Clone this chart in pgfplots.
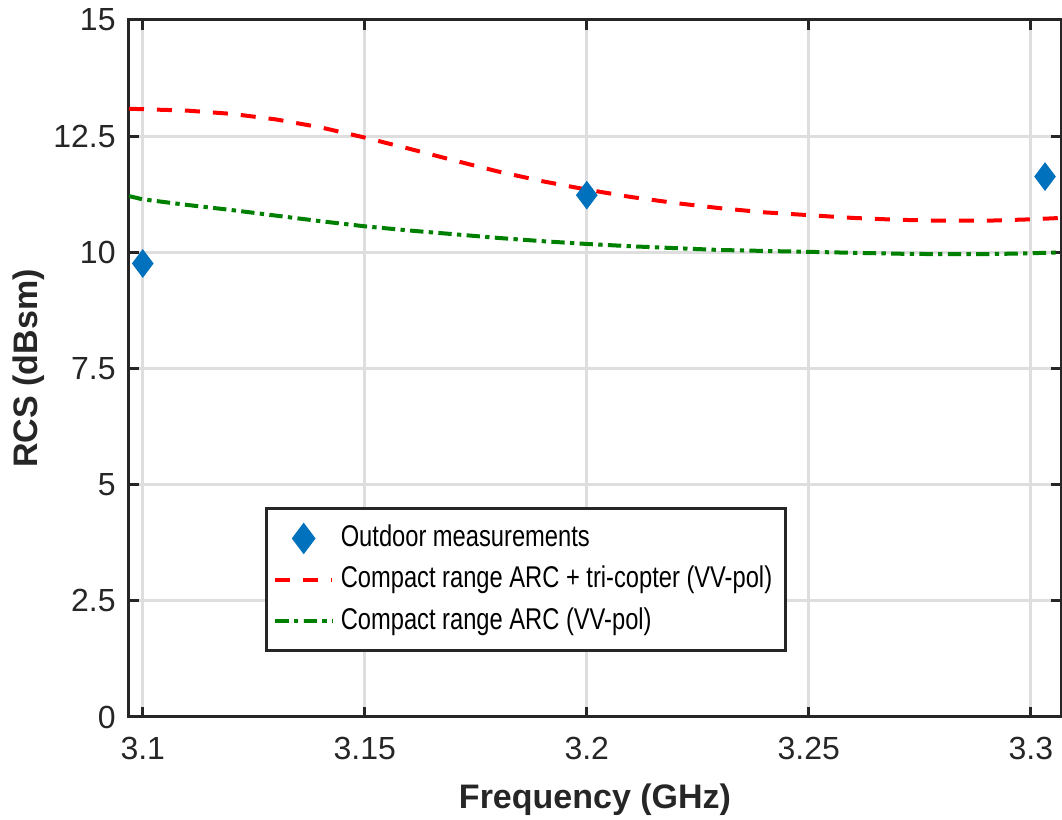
\documentclass[border=0pt]{standalone}
\usepackage{pgfplots}
\pgfplotsset{compat=1.18}
\usepackage{fontspec}
\setmainfont{Liberation Sans}
\definecolor{mblue}{rgb}{0,0.447,0.741}
\definecolor{axgray}{gray}{0.15}
\definecolor{grd}{gray}{0.87}
\newcommand{\lt}[1]{\scalebox{0.79}[1]{#1}}
\begin{document}
\begin{tikzpicture}
\begin{axis}[
  scale only axis,
  width=279.6pt, height=209.1pt,
  xmin=3.0969, xmax=3.3068,
  ymin=0, ymax=15,
  xtick={3.1,3.15,3.2,3.25,3.3},
  xticklabels={3.1,3.15,3.2,3.25,3.3},
  ytick={0,2.5,5,7.5,10,12.5,15},
  yticklabels={0,2.5,5,7.5,10,12.5,15},
  font=\fontsize{9.6}{11.5}\selectfont,
  /pgf/number format/assume math mode=true,
  tick align=inside,
  major tick length=3pt,
  tick style={axgray, line width=0.9pt},
  axis line style={axgray, line width=0.9pt},
  grid=major,
  major grid style={grd, line width=0.9pt},
  ticklabel style={text=axgray},
  xticklabel style={yshift=-2.5pt},
  yticklabel style={xshift=-0.5pt},
  xlabel={\bfseries Frequency (GHz)},
  ylabel={\bfseries RCS (dBsm)},
  xlabel style={text=axgray, font=\fontsize{10.2}{12}\selectfont, yshift=-0.3pt},
  ylabel style={text=axgray, font=\fontsize{10.2}{12}\selectfont, yshift=-4.3pt},
  legend style={at={(0.146,0.093)}, anchor=south west,
    draw=axgray, line width=0.9pt, fill=white,
    font=\fontsize{9}{10.8}\selectfont,
    row sep=0.3pt, inner xsep=2pt, inner ysep=3pt},
  legend cell align=left,
]
\addplot[only marks, mark=diamond*, mark size=4pt, mblue, mark options={fill=mblue, draw=mblue}]
  coordinates {(3.1,9.76) (3.2,11.23) (3.3032,11.63)};
\addlegendentry{\lt{Outdoor measurements}}
\addplot[red, line width=1.2pt, dash pattern=on 4.5pt off 3.9pt]
  coordinates {
  (3.0969,13.09) (3.100,13.08) (3.110,13.05) (3.120,12.98) (3.130,12.86)
  (3.140,12.69) (3.150,12.47) (3.160,12.23) (3.170,11.98) (3.180,11.74)
  (3.190,11.53) (3.200,11.35) (3.210,11.19) (3.220,11.06) (3.230,10.95)
  (3.240,10.86) (3.250,10.80) (3.260,10.74) (3.270,10.70) (3.280,10.68)
  (3.290,10.68) (3.300,10.71) (3.3068,10.74)};
\addlegendentry{\lt{Compact range ARC + tri-copter (VV-pol)}}
\addplot[green!50!black, line width=1.2pt, dash pattern=on 4pt off 1.6pt on 1.3pt off 1.6pt]
  coordinates {
  (3.0969,11.21) (3.100,11.14) (3.110,11.02) (3.120,10.91) (3.130,10.79)
  (3.140,10.67) (3.150,10.56) (3.160,10.47) (3.170,10.39) (3.180,10.31)
  (3.190,10.24) (3.200,10.18) (3.210,10.13) (3.220,10.09) (3.230,10.05)
  (3.240,10.03) (3.250,10.01) (3.260,9.99) (3.270,9.97) (3.280,9.96)
  (3.290,9.96) (3.300,9.98) (3.3068,10.00)};
\addlegendentry{\lt{Compact range ARC (VV-pol)}}
\end{axis}
\pgfresetboundingbox
\path ([xshift=-38.7pt, yshift=-30.9pt]current axis.south west) rectangle ([xshift=0.3pt, yshift=6pt]current axis.north east);
\end{tikzpicture}
\end{document}
